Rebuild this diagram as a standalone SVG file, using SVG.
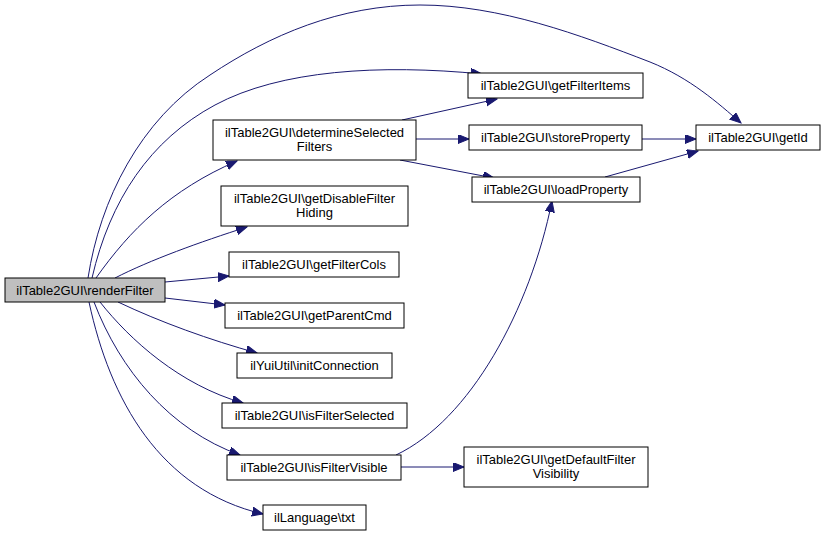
<svg xmlns="http://www.w3.org/2000/svg" width="825" height="537" viewBox="0 0 825 537">
<style>
.n rect{fill:#ffffff;stroke:#000000;stroke-width:1}
.n.g rect{fill:#bfbfbf}
.n text{font-family:"Liberation Sans",Arial,sans-serif;font-size:13px;fill:#000000;text-anchor:middle}
.e path{fill:none;stroke:#191970;stroke-width:1}
</style>
<defs>
<marker id="a" markerUnits="userSpaceOnUse" markerWidth="12" markerHeight="10" refX="11" refY="4.5" orient="auto">
<polygon points="0,0 11,4.5 0,9" fill="#191970" stroke="#191970"/>
</marker>
</defs>
<rect width="825" height="537" fill="#ffffff"/>
<g id="edges" class="e">
<path marker-end="url(#a)" d="M88,278 C100,200 140,120 210,75 C270,35 340,5 420,5 C500,5 580,35 650,62 C690,78 718,103 741,123"/>
<path marker-end="url(#a)" d="M92,278 C110,200 150,140 215,105 C280,70 380,64 482,74"/>
<path marker-end="url(#a)" d="M96,278 C130,230 170,190 237,161"/>
<path marker-end="url(#a)" d="M115,278 C150,260 200,242 247,227"/>
<path marker-end="url(#a)" d="M165,282 L229,276"/>
<path marker-end="url(#a)" d="M165,298 L225,305"/>
<path marker-end="url(#a)" d="M118,302 C160,322 210,340 257,353"/>
<path marker-end="url(#a)" d="M100,302 C130,340 180,385 243,403"/>
<path marker-end="url(#a)" d="M94,302 C120,370 170,430 240,455"/>
<path marker-end="url(#a)" d="M89,302 C110,400 160,490 263,514"/>
<path marker-end="url(#a)" d="M402,120 L497,99"/>
<path marker-end="url(#a)" d="M416,139 L469,139"/>
<path marker-end="url(#a)" d="M400,160 L494,178"/>
<path marker-end="url(#a)" d="M642,139 L696,139"/>
<path marker-end="url(#a)" d="M605,177 L698,151"/>
<path marker-end="url(#a)" d="M396,455 C470,420 530,310 552,201"/>
<path marker-end="url(#a)" d="M401,467 L464,467"/>
</g>
<g id="renderFilter" class="n g"><rect x="5" y="278" width="160" height="24"/><text x="85" y="294.5">ilTable2GUI\renderFilter</text></g>
<g id="determineSelectedFilters" class="n"><rect x="213" y="120" width="203" height="40"/><text x="314.5" y="137">ilTable2GUI\determineSelected</text><text x="314.5" y="151">Filters</text></g>
<g id="getDisableFilterHiding" class="n"><rect x="221" y="186" width="187" height="40"/><text x="314.5" y="203">ilTable2GUI\getDisableFilter</text><text x="314.5" y="217">Hiding</text></g>
<g id="getFilterCols" class="n"><rect x="229" y="252" width="170" height="25"/><text x="314" y="269">ilTable2GUI\getFilterCols</text></g>
<g id="getParentCmd" class="n"><rect x="225" y="303" width="179" height="25"/><text x="314.5" y="320">ilTable2GUI\getParentCmd</text></g>
<g id="initConnection" class="n"><rect x="237" y="353" width="155" height="25"/><text x="314.5" y="370">ilYuiUtil\initConnection</text></g>
<g id="isFilterSelected" class="n"><rect x="222" y="403" width="185" height="25"/><text x="314.5" y="420">ilTable2GUI\isFilterSelected</text></g>
<g id="isFilterVisible" class="n"><rect x="227" y="455" width="174" height="25"/><text x="314" y="472">ilTable2GUI\isFilterVisible</text></g>
<g id="txt" class="n"><rect x="263" y="505" width="103" height="25"/><text x="314.5" y="522">ilLanguage\txt</text></g>
<g id="getFilterItems" class="n"><rect x="468" y="73" width="175" height="25"/><text x="555.5" y="90">ilTable2GUI\getFilterItems</text></g>
<g id="storeProperty" class="n"><rect x="469" y="125" width="173" height="25"/><text x="555.5" y="142">ilTable2GUI\storeProperty</text></g>
<g id="loadProperty" class="n"><rect x="472" y="177" width="168" height="25"/><text x="556" y="194">ilTable2GUI\loadProperty</text></g>
<g id="getId" class="n"><rect x="696" y="125" width="124" height="25"/><text x="758" y="142">ilTable2GUI\getId</text></g>
<g id="getDefaultFilterVisibility" class="n"><rect x="464" y="447" width="184" height="40"/><text x="556" y="464">ilTable2GUI\getDefaultFilter</text><text x="556" y="478">Visibility</text></g>
</svg>
